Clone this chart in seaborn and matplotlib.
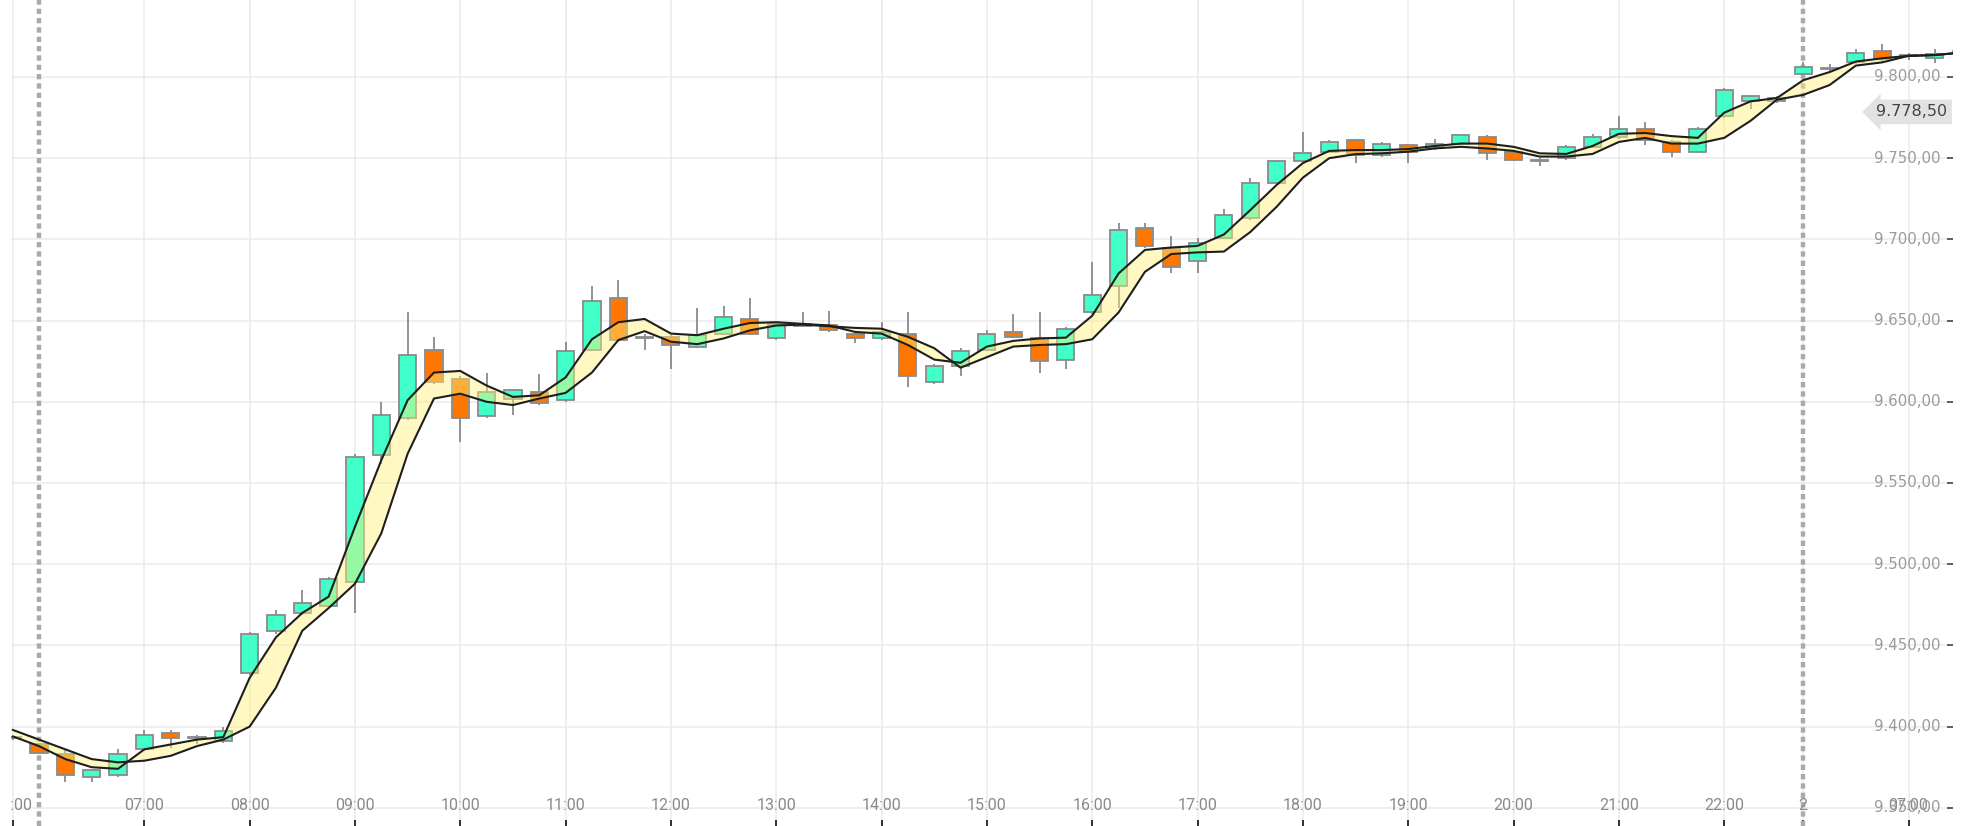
import numpy as np
import pandas as pd
import seaborn as sns
import matplotlib.pyplot as plt
import matplotlib.transforms as mtransforms

# 15 minute candles; index 0 = 06:00 day 1, index 67 = 06:00 day 2
bar_idx = list(range(-1, 74))

opens = [9393, 9389, 9383, 9369, 9370, 9386, 9396, 9393, 9391, 9433,
         9459, 9470, 9474, 9489, 9567, 9590, 9632, 9614, 9591, 9602,
         9606, 9601, 9632, 9664, 9639, 9640, 9634, 9642, 9651, 9639,
         9648, 9647, 9642, 9639, 9642, 9612, 9622, 9632, 9643, 9639,
         9626, 9655, 9671, 9707, 9695, 9687, 9701, 9713, 9735, 9748,
         9754, 9761, 9752, 9758, 9756, 9759, 9763, 9754, 9749, 9750,
         9757, 9763, 9768, 9760, 9754, 9776, 9785, 9785, 9802, 9805,
         9809, 9816, 9813, 9811.5, 9815]
highs = [9394, 9390, 9386, 9374, 9386, 9398, 9398, 9395, 9400, 9458,
         9472, 9484, 9492, 9568, 9600, 9655, 9640, 9616, 9618, 9608,
         9617, 9637, 9671, 9675, 9642, 9641, 9658, 9659, 9664, 9649,
         9655, 9656, 9643, 9649, 9655, 9623, 9633, 9644, 9654, 9655,
         9646, 9686, 9710, 9710, 9702, 9701, 9719, 9738, 9749, 9766,
         9761, 9762, 9760, 9759, 9762, 9765, 9764, 9755, 9750, 9758,
         9765, 9776, 9772, 9761, 9769, 9793, 9789, 9788, 9809, 9808,
         9817, 9820, 9815, 9817, 9817]
lows = [9392, 9383, 9366, 9366, 9369, 9385, 9387, 9389, 9390, 9432,
        9457, 9469, 9473, 9470, 9562, 9589, 9611, 9575, 9590, 9592,
        9598, 9600, 9631, 9637, 9632, 9620, 9633, 9641, 9641, 9638,
        9646, 9643, 9636, 9638, 9609, 9611, 9616, 9631, 9639, 9618,
        9620, 9654, 9658, 9695, 9679, 9679, 9700, 9712, 9734, 9747,
        9753, 9747, 9751, 9747, 9755, 9758, 9749, 9748, 9745, 9749,
        9756, 9762, 9758, 9751, 9753, 9775, 9780, 9784, 9801, 9803,
        9808, 9810, 9810.5, 9808.5, 9814]
closes = [9393.3, 9384, 9370, 9373, 9383, 9395, 9393, 9393.5, 9397, 9457,
          9469, 9476, 9491, 9566, 9592, 9629, 9612, 9590, 9606, 9607,
          9599, 9631, 9662, 9638, 9640, 9635, 9641, 9652, 9642, 9648,
          9646.5, 9644, 9639, 9643, 9616, 9622, 9631, 9642, 9640, 9625,
          9645, 9666, 9706, 9696, 9683, 9698, 9715, 9735, 9748, 9753,
          9760, 9752, 9759, 9754, 9759, 9764, 9753, 9749, 9748, 9757,
          9763, 9768, 9761, 9754, 9768, 9792, 9788, 9787, 9806, 9805.5,
          9815, 9811, 9813.5, 9814, 9816]

ma_fast = [9394, 9388, 9380, 9375, 9374, 9386, 9389, 9392, 9393.5, 9430,
           9455, 9470, 9480, 9523, 9564, 9601, 9618, 9619, 9610, 9603,
           9604, 9615, 9638.5, 9649, 9651, 9642, 9641, 9645, 9648.5, 9649,
           9648, 9647, 9643, 9642, 9635, 9626, 9624, 9634, 9637.5, 9639,
           9639.5, 9653, 9679, 9693.5, 9695, 9696, 9703, 9718, 9733.5, 9747,
           9754.5, 9755, 9755, 9755.6, 9757.5, 9759, 9759, 9757, 9753, 9752.6,
           9757.5, 9765, 9765.5, 9763.6, 9762.5, 9778, 9785, 9787, 9798, 9803,
           9809.5, 9811.5, 9813, 9813.5, 9815]
ma_slow = [9398, 9392, 9386, 9380, 9378, 9379, 9382, 9388, 9392, 9400,
           9424, 9459, 9473, 9488, 9519, 9568, 9602, 9605, 9600, 9598,
           9602, 9605.5, 9618, 9638, 9643.5, 9637, 9635.5, 9639, 9644, 9647,
           9647.5, 9646.5, 9645.5, 9645, 9640, 9633, 9621, 9627.5, 9634, 9635,
           9635.5, 9638.5, 9655, 9680, 9691, 9692, 9692.5, 9704.5, 9720, 9738,
           9750, 9752.5, 9753, 9754, 9756, 9757, 9756, 9754.5, 9751, 9751,
           9752.6, 9760, 9762.5, 9759, 9759, 9762.5, 9773, 9786, 9789, 9795,
           9807, 9809, 9813, 9813.5, 9815]

tick_pos = [-1] + [4 * h for h in range(1, 17)] + [67, 71]
tick_lbl = ['22:00'] + ['%02d:00' % (6 + h) for h in range(1, 17)] + ['2', '07:00']
day_starts = [0, 67]
y_ticks = list(range(9350, 9801, 50))
last_price = 9778.50

df = pd.DataFrame({'idx': bar_idx, 'open': opens, 'high': highs, 'low': lows,
                   'close': closes, 'fast': ma_fast, 'slow': ma_slow})
up = df['close'] >= df['open']
body_col = np.where(up, '#40ffc8', '#ff7700')

sns.set_theme(style='white')
plt.rcParams['font.family'] = ['DejaVu Sans']

fig = plt.figure(figsize=(19.77, 8.26), dpi=100)
ax = fig.add_axes([11 / 1977, 0, (1953 - 11) / 1977, 1])

ax.set_xlim(-1.063, 72.69)
ax.set_ylim(9338.8, 9847.4)

for s in ax.spines.values():
    s.set_visible(False)

ax.set_xticks(tick_pos)
ax.set_xticklabels([])
ax.set_yticks(y_ticks)
ax.set_yticklabels([])
ax.grid(True, color='#ebebeb', lw=1.1, zorder=0)
ax.set_axisbelow(True)
ax.tick_params(axis='x', direction='in', length=4, width=1.3, color='#222', bottom=True)
ax.tick_params(axis='y', direction='in', length=4, width=1.2, color='#444',
               left=False, right=True)

for d in day_starts:
    ax.axvline(d, color='#aaaaaa', lw=3.2, ls=(0, (1.2, 0.9)), zorder=1)

# candles
ax.vlines(df['idx'], df['low'], df['high'], color='#8a8a8a', lw=1.3, zorder=2)
heights = (df['close'] - df['open']).abs().clip(lower=0.6)
bottoms = df[['open', 'close']].min(axis=1)
ax.bar(df['idx'], heights, bottom=bottoms, width=0.65, color=body_col,
       edgecolor='#8a8a8a', linewidth=1.3, zorder=3)

# moving average band
ax.fill_between(df['idx'], df['fast'], df['slow'], color='#fff07a', alpha=0.45,
                lw=0, zorder=4)
sns.lineplot(data=df, x='idx', y='fast', color='#1e1e1e', lw=1.5, ax=ax, zorder=5)
sns.lineplot(data=df, x='idx', y='slow', color='#1e1e1e', lw=1.5, ax=ax, zorder=5)
ax.set_xlabel('')
ax.set_ylabel('')

# x labels inside the plot
tr_x = mtransforms.blended_transform_factory(ax.transData, ax.transAxes)
for p, t in zip(tick_pos, tick_lbl):
    ax.text(p, 21 / 826, t, transform=tr_x, ha='center', va='center',
            fontsize=11.5, color='#8a8a8a', family=['Roboto', 'DejaVu Sans'],
            clip_on=True, zorder=6)

# y labels inside on the right
tr_y = mtransforms.blended_transform_factory(ax.transAxes, ax.transData)
for v in y_ticks:
    s = '{:,.2f}'.format(v).replace(',', 'X').replace('.', ',').replace('X', '.')
    ax.text(1 - 12 / 1942, v, s, transform=tr_y, ha='right', va='center',
            fontsize=10.8, color='#9a9a9a', zorder=6)

# last price tag
s = '{:,.2f}'.format(last_price).replace(',', 'X').replace('.', ',').replace('X', '.')
ax.text(1 - 6 / 1942, last_price, s, transform=tr_y, ha='right', va='center',
        fontsize=11.5, color='#444444', zorder=7,
        bbox=dict(boxstyle='larrow,pad=0.3', facecolor='#e2e2e2', edgecolor='none'))

fig.savefig('out.png', dpi=100)
